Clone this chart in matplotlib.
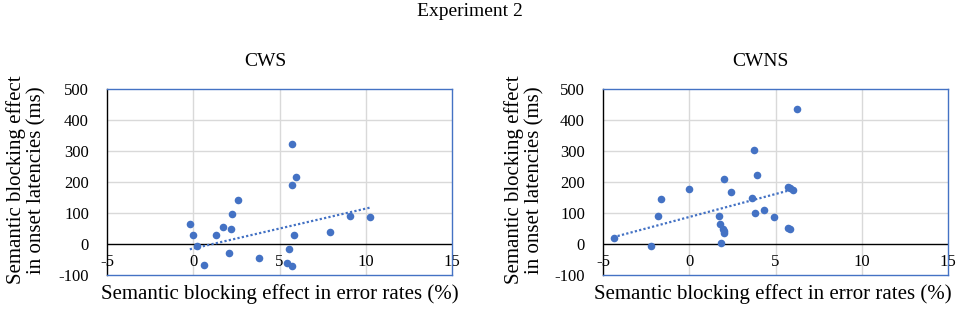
import matplotlib
matplotlib.use("Agg")
import matplotlib.pyplot as plt
import numpy as np

plt.rcParams['font.family'] = ['Liberation Serif', 'DejaVu Serif']

# CWS data (error-rate effect %, onset latency effect ms)
cws_x = [-0.19, 0.0, 0.21, 0.6, 1.29, 1.73, 2.08, 2.2, 2.25, 2.58, 3.82,
         5.41, 5.57, 5.7, 5.7, 5.74, 5.84, 5.95, 7.92, 9.09, 10.23]
cws_y = [66, 30, -8, -67, 28, 55, -28, 47, 96, 141, -44,
         -61, -16, 324, -71, 190, 30, 216, 40, 90, 88]
cws_trend_x = [-0.2, 10.3]
cws_trend_y = [-17, 118]

# CWNS data
cwns_x = [-4.38, -2.2, -1.81, -1.64, 0.0, 1.74, 1.8, 1.83, 1.93, 1.99, 2.03,
          2.03, 2.43, 3.63, 3.73, 3.82, 3.9, 4.36, 4.9, 5.75, 5.83, 5.75,
          5.85, 6.0, 6.24]
cwns_y = [19, -8, 90, 146, 179, 91, 63, 4, 50, 43, 37,
          210, 167, 147, 304, 100, 224, 109, 86, 52, 47, 184,
          180, 175, 436]
cwns_trend_x = [-4.4, 6.0]
cwns_trend_y = [22, 176]

x_ticks = [-5, 0, 5, 10, 15]
y_ticks = [-100, 0, 100, 200, 300, 400, 500]

titles = ["CWS", "CWNS"]
suptitle = "Experiment 2"
xlabel = "Semantic blocking effect in error rates (%)"
ylabel = "Semantic blocking effect\nin onset latencies (ms)"

blue = "#4472C4"
grid = "#d9d9d9"

fig = plt.figure(figsize=(9.57, 3.2), dpi=100)
axes_pos = [[107/957, 45/320, 345/957, 186/320],
            [603/957, 45/320, 345/957, 186/320]]
title_x = [265/957, 760/957]
ylab_x = [26/957, 524/957]
xlab_x = [280/957, 773/957]

datasets = [(cws_x, cws_y, cws_trend_x, cws_trend_y),
            (cwns_x, cwns_y, cwns_trend_x, cwns_trend_y)]

for i, (xs, ys, tx, ty) in enumerate(datasets):
    ax = fig.add_axes(axes_pos[i])
    ax.set_xlim(-5, 15)
    ax.set_ylim(-100, 500)
    ax.set_yticks(y_ticks)
    ax.set_yticklabels([str(v) for v in y_ticks], fontsize=12)
    ax.set_xticks(x_ticks)
    ax.set_xticklabels([])
    ax.tick_params(axis='both', length=0, pad=13)
    for xv in x_ticks[1:-1]:
        ax.axvline(xv, color=grid, lw=1, zorder=0)
    for yv in y_ticks[2:-1]:
        ax.axhline(yv, color=grid, lw=1, zorder=0)
    ax.axhline(0, color='black', lw=1, zorder=1)
    for s in ['top', 'right', 'bottom']:
        ax.spines[s].set_color(blue)
        ax.spines[s].set_linewidth(1)
    ax.spines['left'].set_color('black')
    ax.spines['left'].set_linewidth(1)
    for xv in x_ticks:
        ax.text(xv, -33, str(xv), ha='center', va='top', fontsize=12,
                clip_on=False, zorder=2)
    ax.plot(tx, ty, linestyle=(0, (1, 1)), color=blue, lw=1.6, zorder=3)
    ax.scatter(xs, ys, s=30, color=blue, zorder=4, linewidths=0)
    fig.text(title_x[i], 1 - 62/320, titles[i], ha='center', va='center', fontsize=14)
    fig.text(ylab_x[i], 1 - 180/320, ylabel, ha='center', va='center',
             rotation=90, fontsize=15, linespacing=1.1)
    fig.text(xlab_x[i], 1 - 294/320, xlabel, ha='center', va='center', fontsize=15)

fig.text(470/957, 1 - 12/320, suptitle, ha='center', va='center', fontsize=14)

fig.savefig("out.png", dpi=100)
